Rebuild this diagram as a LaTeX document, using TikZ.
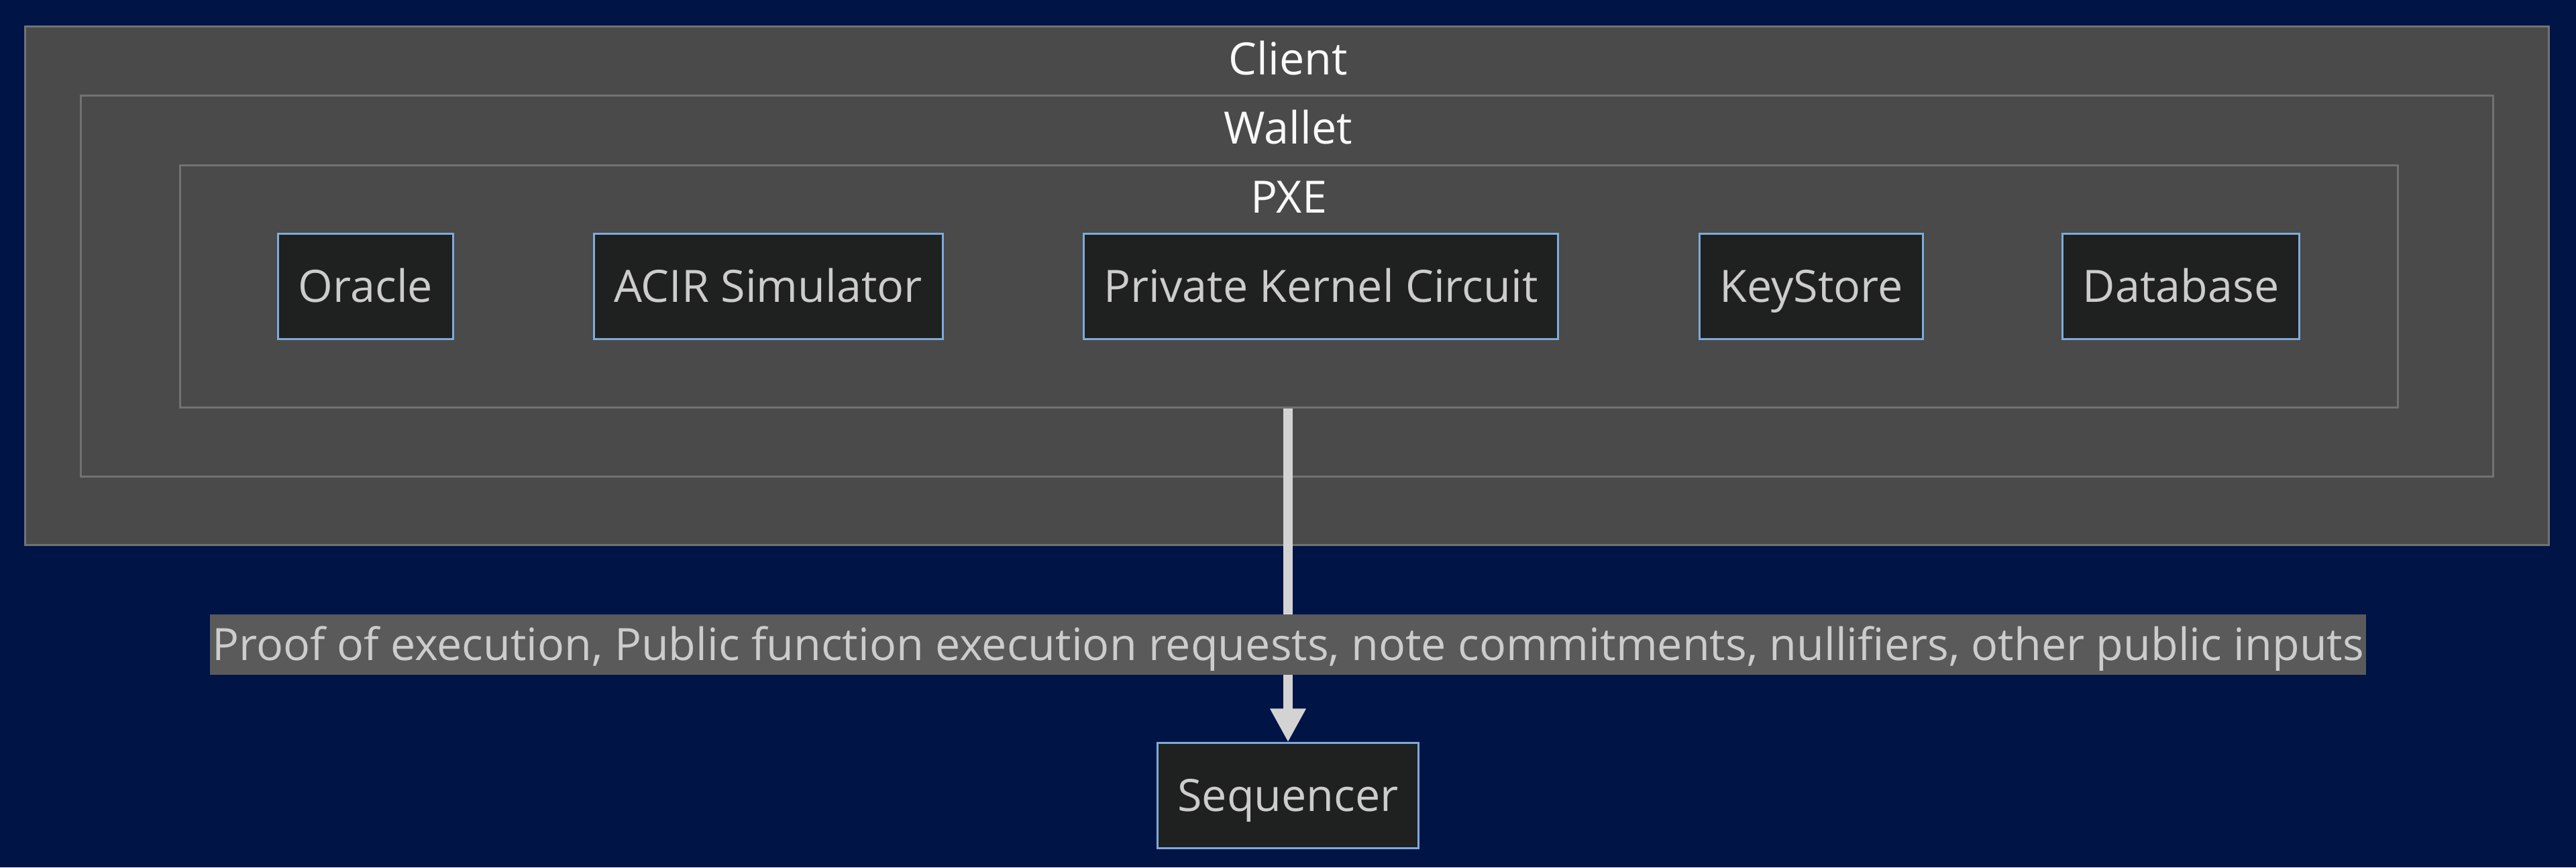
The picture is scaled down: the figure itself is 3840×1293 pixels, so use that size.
\documentclass[tikz,border=0pt]{standalone}
\usepackage{fontspec}
\setmainfont{Open Sans}
\usetikzlibrary{arrows.meta,positioning}

\definecolor{navy}{HTML}{001446}
\definecolor{clusterfill}{HTML}{494A49}
\definecolor{clusterline}{HTML}{717273}
\definecolor{boxfill}{HTML}{1F2020}
\definecolor{boxline}{HTML}{7DABDA}
\definecolor{boxtext}{HTML}{CCCCCC}
\definecolor{titletext}{HTML}{F8F8F8}
\definecolor{labelfill}{HTML}{5A5A5A}
\definecolor{flowline}{HTML}{D3D3D3}

\tikzset{
	cluster/.style={rectangle, draw=clusterline, fill=clusterfill, line width=0.03cm},
	title/.style={text=titletext, anchor=base, inner sep=0pt},
	box/.style={rectangle, draw=boxline, fill=boxfill, text=boxtext, line width=0.03cm, minimum height=1.56cm, inner xsep=0.30cm, text height=0.475cm, text depth=0cm},
	flow/.style={draw=flowline, line width=0.14cm, -{Triangle[width=0.5cm,length=0.5cm]}},
	flowlabel/.style={fill=labelfill, text=boxtext, minimum height=0.9cm, inner xsep=1pt, text height=0.475cm, text depth=0cm}
}

\begin{document}
\begin{tikzpicture}[x=0.01cm, y=-0.01cm, every node/.append style={font=\fontsize{18.9pt}{23pt}\selectfont}]
		\fill[navy] (0,0) rectangle (3840,1293);
		\useasboundingbox (0,0) rectangle (3840,1293);

		% nested groups
		\node [cluster, minimum width=37.59cm, minimum height=7.72cm] (client) at (1918.5,426) {};
		\node [cluster, minimum width=35.93cm, minimum height=5.67cm] (wallet) at (1918.5,426.5) {};
		\node [cluster, minimum width=33.04cm, minimum height=3.60cm] (pxe) at (1921,427) {};
		\node [title] (clienttitle) at (1920,111) {Client};
		\node [title] (wallettitle) at (1920,214) {Wallet};
		\node [title] (pxetitle) at (1921,317) {PXE};

		\draw (545,427) node [box] (oracle) {Oracle};
		\draw (1145,427) node [box] (acir) {ACIR Simulator};
		\draw (1969,427) node [box] (kernel) {Private Kernel Circuit};
		\draw (2700,427) node [box] (keystore) {KeyStore};
		\draw (3251,427) node [box] (database) {Database};
		\draw (1920,1186) node [box] (sequencer) {Sequencer};

		\draw [flow] (pxe.south -| sequencer.north) -- (sequencer.north)
			node [flowlabel, pos=0.707] (flowtext) {Proof of execution, Public function execution requests, note commitments, nullifiers, other public inputs};
	\end{tikzpicture}
\end{document}
